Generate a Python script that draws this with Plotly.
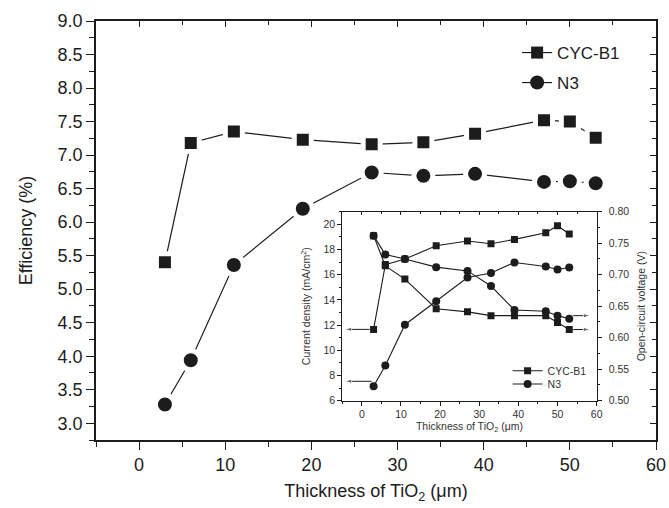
import plotly.graph_objects as go

# ---------------- data ----------------
thickness = [3, 6, 11, 19, 27, 33, 39, 47, 50, 53]
eff_cyc = [5.40, 7.18, 7.35, 7.23, 7.16, 7.19, 7.32, 7.52, 7.50, 7.26]
eff_n3 = [3.28, 3.94, 5.36, 6.20, 6.74, 6.69, 6.72, 6.60, 6.61, 6.58]
jsc_cyc = [11.66, 16.80, 17.24, 18.30, 18.67, 18.45, 18.80, 19.33, 19.89, 19.23]
jsc_n3 = [7.14, 8.79, 12.03, 13.89, 15.78, 16.14, 16.97, 16.65, 16.41, 16.57]
voc_cyc = [0.762, 0.714, 0.693, 0.646, 0.641, 0.635, 0.635, 0.635, 0.624, 0.613]
voc_n3 = [0.762, 0.732, 0.725, 0.712, 0.706, 0.682, 0.644, 0.642, 0.635, 0.630]
series_names = ["CYC-B1", "N3"]

main_xticks = [0, 10, 20, 30, 40, 50, 60]
main_yticks = [3.0, 3.5, 4.0, 4.5, 5.0, 5.5, 6.0, 6.5, 7.0, 7.5, 8.0, 8.5, 9.0]
inset_jticks = [6, 8, 10, 12, 14, 16, 18, 20]
inset_vticks = [0.50, 0.55, 0.60, 0.65, 0.70, 0.75, 0.80]

DARK = "#1c1c1c"
GREY = "#333333"
FONT = "Liberation Sans, Arial, sans-serif"

fig = go.Figure()

# ---------- main traces ----------
main_series = [(eff_cyc, "square", 12, "legend"), (eff_n3, "circle", 14, "legend2")]
for (vals, sym, sz, lg), nm in zip(main_series, series_names):
    # line + marker (legend entry)
    fig.add_trace(go.Scatter(
        x=thickness, y=vals, name=nm, mode="lines+markers",
        line=dict(color=DARK, width=1.2),
        marker=dict(symbol=sym, size=sz, color=DARK),
        legend=lg))
for (vals, sym, sz, lg), nm in zip(main_series, series_names):
    # markers with white halo on top -> gap between line and symbol
    fig.add_trace(go.Scatter(
        x=thickness, y=vals, name=nm, mode="markers",
        marker=dict(symbol=sym, size=sz + 5, color=DARK, line=dict(color="white", width=5)),
        showlegend=False, hoverinfo="skip"))

# dummy traces for mirrored (inside) tick axes
fig.add_trace(go.Scatter(x=[None], y=[None], xaxis="x3", yaxis="y", showlegend=False, hoverinfo="skip"))
fig.add_trace(go.Scatter(x=[None], y=[None], xaxis="x", yaxis="y4", showlegend=False, hoverinfo="skip"))
fig.add_trace(go.Scatter(x=[None], y=[None], xaxis="x5", yaxis="y2", showlegend=False, hoverinfo="skip"))

# ---------- inset traces ----------
ims = 7
fig.add_trace(go.Scatter(
    x=thickness, y=jsc_cyc, name=series_names[0], mode="lines+markers",
    xaxis="x2", yaxis="y2", line=dict(color=DARK, width=1.1),
    marker=dict(symbol="square", size=ims, color=DARK),
    legend="legend3", showlegend=True))
fig.add_trace(go.Scatter(
    x=thickness, y=jsc_n3, name=series_names[1], mode="lines+markers",
    xaxis="x2", yaxis="y2", line=dict(color=DARK, width=1.1),
    marker=dict(symbol="circle", size=ims + 1, color=DARK),
    legend="legend4", showlegend=True))
fig.add_trace(go.Scatter(
    x=thickness, y=voc_cyc, name=series_names[0], mode="lines+markers",
    xaxis="x2", yaxis="y3", line=dict(color=DARK, width=1.1),
    marker=dict(symbol="square", size=ims, color=DARK), showlegend=False))
fig.add_trace(go.Scatter(
    x=thickness, y=voc_n3, name=series_names[1], mode="lines+markers",
    xaxis="x2", yaxis="y3", line=dict(color=DARK, width=1.1),
    marker=dict(symbol="circle", size=ims + 1, color=DARK), showlegend=False))

# ---------- arrows (inset), drawn as line + arrow-head marker ----------
def arrow(xtail, xhead, yval, yaxis):
    fig.add_trace(go.Scatter(
        x=[xtail, xhead], y=[yval, yval], xaxis="x2", yaxis=yaxis,
        mode="lines+markers", line=dict(color=DARK, width=1),
        marker=dict(symbol="arrow", angleref="previous", size=[0, 7], color=DARK),
        showlegend=False, hoverinfo="skip"))

arrow(thickness[0] - 1.0, -4.3, jsc_cyc[0], "y2")
arrow(thickness[0] - 0.5, -4.3, jsc_n3[0] + 0.4, "y2")
arrow(thickness[-1] + 1.0, 58.3, voc_n3[-1] + 0.005, "y3")
arrow(thickness[-1] + 1.0, 58.3, voc_cyc[-1], "y3")

# ---------- layout ----------
main_tick_font = dict(family=FONT, size=18, color=DARK)
inset_tick_font = dict(family=FONT, size=10.5, color=GREY)

common_main = dict(showgrid=False, zeroline=False, showline=True, linecolor=DARK,
                   linewidth=1.5, automargin=False)
common_inset = dict(showgrid=False, zeroline=False, showline=True, linecolor=DARK,
                    linewidth=1, automargin=False)

x_dom_in = [0.4398, 0.894]
y_dom_in = [0.0938, 0.5449]

def leg(x, y, size, color):
    return dict(x=x, y=y, xanchor="left", yanchor="middle", bgcolor="rgba(0,0,0,0)",
                font=dict(family=FONT, size=size, color=color), borderwidth=0)

fig.update_layout(
    width=669, height=508,
    margin=dict(l=96, r=13, t=21, b=68, autoexpand=False),
    paper_bgcolor="white", plot_bgcolor="white",
    font=dict(family=FONT, color=DARK),
    xaxis=dict(domain=[0, 1], anchor="y", range=[-5, 60], tickvals=main_xticks,
               ticks="outside", ticklen=8, tickwidth=1.3, tickcolor=DARK,
               minor=dict(ticks="outside", ticklen=5, dtick=5, tick0=0, tickcolor=DARK, tickwidth=1.2),
               tickfont=main_tick_font,
               title=dict(text="Thickness of TiO<sub>2</sub> (μm)", font=dict(family=FONT, size=18, color=DARK), standoff=10),
               **common_main),
    yaxis=dict(domain=[0, 1], anchor="x", range=[2.75, 9.0], tickvals=main_yticks, tickformat=".1f",
               ticks="outside", ticklen=8, tickwidth=1.3, tickcolor=DARK,
               minor=dict(ticks="outside", ticklen=5, dtick=0.25, tick0=0, tickcolor=DARK, tickwidth=1.2),
               tickfont=main_tick_font,
               title=dict(text="Efficiency (%)", font=dict(family=FONT, size=18, color=DARK), standoff=20),
               **common_main),
    xaxis3=dict(overlaying="x", side="top", anchor="y", range=[-5, 60], tickvals=main_xticks,
                ticks="inside", ticklen=6, tickcolor=DARK, showticklabels=False,
                minor=dict(ticks="inside", ticklen=4, dtick=5, tick0=0, tickcolor=DARK),
                **common_main),
    yaxis4=dict(overlaying="y", side="right", anchor="x", range=[2.75, 9.0], tickvals=main_yticks,
                ticks="inside", ticklen=6, tickcolor=DARK, showticklabels=False,
                minor=dict(ticks="inside", ticklen=4, dtick=0.25, tick0=0, tickcolor=DARK),
                **common_main),
    xaxis2=dict(domain=x_dom_in, anchor="y2", range=[-5, 60], tickvals=main_xticks,
                ticks="outside", ticklen=4, tickcolor=DARK,
                minor=dict(ticks="outside", ticklen=2, dtick=5, tick0=0, tickcolor=DARK),
                tickfont=inset_tick_font,
                title=dict(text="Thickness of TiO<sub>2</sub> (μm)", font=dict(family=FONT, size=10.5, color=GREY), standoff=3),
                **common_inset),
    xaxis5=dict(overlaying="x2", side="top", anchor="y2", range=[-5, 60], tickvals=main_xticks,
                ticks="inside", ticklen=3, tickcolor=DARK, showticklabels=False,
                minor=dict(ticks="inside", ticklen=2, dtick=5, tick0=0, tickcolor=DARK),
                **common_inset),
    yaxis2=dict(domain=y_dom_in, anchor="x2", range=[6, 21], tickvals=inset_jticks,
                ticks="outside", ticklen=4, tickcolor=DARK,
                minor=dict(ticks="outside", ticklen=2, dtick=1, tick0=0, tickcolor=DARK),
                tickfont=inset_tick_font,
                title=dict(text="Current density (mA/cm<sup>2</sup>)", font=dict(family=FONT, size=10.5, color=GREY), standoff=10),
                **common_inset),
    yaxis3=dict(overlaying="y2", side="right", anchor="x2", range=[0.5, 0.8], tickvals=inset_vticks,
                tickformat=".2f", ticks="outside", ticklen=4, tickcolor=DARK, ticklabelstandoff=5,
                minor=dict(ticks="outside", ticklen=2, dtick=0.025, tick0=0, tickcolor=DARK),
                tickfont=inset_tick_font,
                title=dict(text="Open-circuit voltage (V)", font=dict(family=FONT, size=10.5, color=GREY), standoff=9),
                **common_inset),
    legend=leg(0.752, 0.9236, 17, DARK),
    legend2=leg(0.752, 0.852, 17, DARK),
    legend3=leg(0.735, 0.1654, 10.5, GREY),
    legend4=leg(0.735, 0.1337, 10.5, GREY),
    showlegend=True,
)

fig.write_html("out.html")
